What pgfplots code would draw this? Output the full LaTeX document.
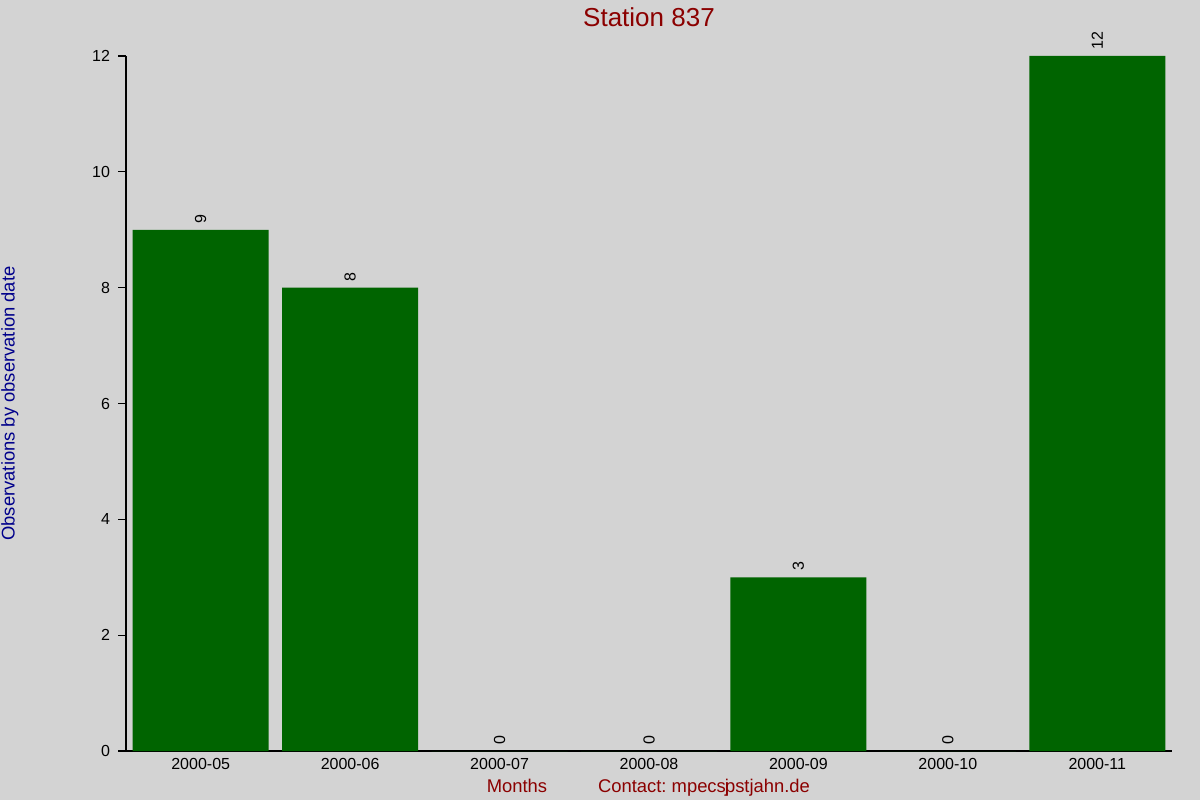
\documentclass[border=0pt]{standalone}
\usepackage{pgfplots}
\pgfplotsset{compat=1.18}
\usepackage{fontspec}
\setmainfont{Liberation Sans}

\definecolor{bggray}{HTML}{D3D3D3}
\definecolor{bargreen}{HTML}{006400}
\definecolor{titlered}{HTML}{8B0000}
\definecolor{labelblue}{HTML}{00008B}

\pgfplotstableread{
idx count
0 9
1 8
2 0
3 0
4 3
5 0
6 12
}\stationdata

\begin{document}
\frenchspacing
\begin{tikzpicture}
% 1 px of the 1200x800 reference = 0.5pt
\fill[bggray] (0,0) rectangle (600pt,400pt);
\useasboundingbox (0,0) rectangle (600pt,400pt);
\begin{axis}[
    at={(63pt,24.5pt)}, anchor=south west,
    scale only axis,
    width=523pt, height=347.5pt,
    xmin=-0.5, xmax=6.5,
    ymin=0, ymax=12,
    axis x line*=bottom,
    axis y line*=left,
    axis line style={black, line width=0.6pt},
    xtick=data,
    xticklabels={2000-05,2000-06,2000-07,2000-08,2000-09,2000-10,2000-11},
    x tick style={draw=none},
    ytick={0,2,...,12},
    tick align=outside,
    major tick length=4pt,
    y tick style={black, line width=0.6pt},
    tick label style={font=\fontsize{8}{9.6}\selectfont, text=black},
    yticklabel style={xshift=-0.5pt},
    xticklabel style={yshift=4pt},
    /pgf/number format/assume math mode=true,
    title={Station 837},
    title style={font=\fontsize{13}{15}\selectfont, text=titlered,
        at={(axis description cs:0.5,1)}, anchor=center, yshift=13.5pt},
    ylabel={Observations by observation date},
    ylabel style={font=\fontsize{9.2}{11}\selectfont, text=labelblue,
        at={(axis description cs:-0.111,0.5)}, anchor=center},
    ybar, bar width=0.91,
    nodes near coords,
    every node near coord/.append style={font=\fontsize{8}{9.6}\selectfont,
        text=black, rotate=90, anchor=west, inner sep=3pt},
    clip=false,
]
\addplot[fill=bargreen, draw=none, bar shift=0pt] table[x=idx, y=count] {\stationdata};
\node[font=\fontsize{9.2}{11}\selectfont, text=titlered, anchor=base]
    at (axis description cs:0.3738,-0.059) {Months};
\node[font=\fontsize{9.2}{11}\selectfont, text=titlered, anchor=base]
    at (axis description cs:0.5526,-0.059) {Contact: mpecs\kern-0.05em j\kern-0.22em pstjahn.de};
\end{axis}
\end{tikzpicture}
\end{document}
